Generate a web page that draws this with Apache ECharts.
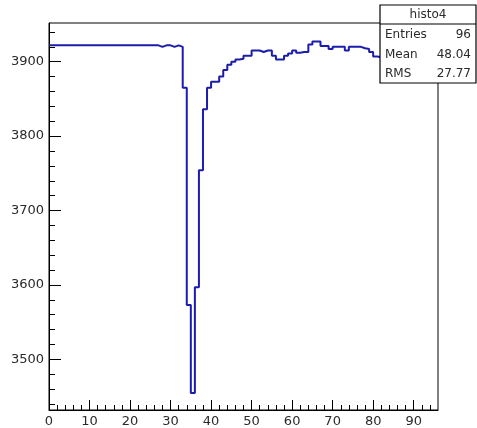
<!DOCTYPE html>
<html>
<head>
<meta charset="utf-8">
<script src="https://cdn.jsdelivr.net/npm/echarts@6/dist/echarts.min.js"></script>
<style>
  html, body { margin: 0; padding: 0; background: #fff; }
  #chart { width: 477px; height: 428px; }
</style>
</head>
<body>
<div id="chart"></div>
<script>
// histo4: one entry per unit-width bin, bins 0..95
const binContents = [
  3922, 3922, 3922, 3922, 3922, 3922, 3922, 3922, 3922, 3922,
  3922, 3922, 3922, 3922, 3922, 3922, 3922, 3922, 3922, 3922,
  3922, 3922, 3922, 3922, 3922, 3922, 3922, 3920, 3922, 3922,
  3920, 3922, 3920, 3865, 3573, 3455, 3597, 3754, 3836, 3865,
  3873, 3873, 3880, 3889, 3896, 3900, 3903, 3904, 3908, 3908,
  3915, 3915, 3913, 3915, 3915, 3908, 3903, 3903, 3908, 3911,
  3915, 3912, 3913, 3913, 3923, 3927, 3927, 3921, 3921, 3917,
  3920, 3920, 3920, 3915, 3920, 3920, 3920, 3918, 3917, 3913,
  3907, 3906, 3908, 3910, 3909, 3912, 3910, 3908, 3911, 3913,
  3910, 3909, 3912, 3910, 3908, 3910
];
const xRange = [0, 96];
const yRange = [3432, 3952];
const xMajorTicks = [0, 10, 20, 30, 40, 50, 60, 70, 80, 90];
const yMajorTicks = [3500, 3600, 3700, 3800, 3900];
const statsTitle = 'histo4';
const statsNames = ['Entries', 'Mean', 'RMS'];
const statsValues = ['96', '48.04', '27.77'];

// minor ticks: 5 divisions per major interval
const xMinorTicks = [];
for (let v = 2; v < xRange[1]; v += 2) if (v % 10 !== 0) xMinorTicks.push(v);
const yMinorTicks = [];
for (let v = 3440; v < yRange[1]; v += 20) if (v % 100 !== 0) yMinorTicks.push(v);

// outline of the histogram: each bin is a flat step from its low edge to its high edge
const outline = binContents.map((v, i) => [i, v]);
outline.push([binContents.length, binContents[binContents.length - 1]]);

const FONT = 'DejaVu Sans';
const INK = '#000';
const TEXT = '#2a2a2a';

function axisPair(dim, range, major, minor, majorLen, minorLen) {
  const base = {
    type: 'value', min: range[0], max: range[1],
    position: dim === 'x' ? 'bottom' : 'left',
    splitLine: { show: false }
  };
  return [
    Object.assign({}, base, {
      axisLine: { show: true, onZero: false, lineStyle: { color: INK, width: 1 } },
      axisTick: { show: true, inside: true, length: majorLen, customValues: major,
                  lineStyle: { color: INK, width: 1 } },
      axisLabel: { show: true, customValues: major, margin: 5,
                   formatter: (v) => String(v),
                   fontFamily: FONT, fontSize: 13, color: TEXT }
    }),
    Object.assign({}, base, {
      axisLine: { show: false, onZero: false },
      axisTick: { show: true, inside: true, length: minorLen, customValues: minor,
                  lineStyle: { color: INK, width: 1 } },
      axisLabel: { show: false }
    })
  ];
}

const boxX = 380, boxY = 5, boxW = 96, boxH = 78;
const rowY = [35, 54.5, 74];

const statsGraphic = [
  { type: 'rect', shape: { x: boxX, y: boxY, width: boxW, height: boxH },
    style: { fill: '#fff', stroke: INK, lineWidth: 1.2 }, z: 100 },
  { type: 'line', shape: { x1: boxX, y1: 24, x2: boxX + boxW, y2: 24 },
    style: { stroke: INK, lineWidth: 1.2 }, z: 101 },
  { type: 'text', x: boxX + boxW / 2, y: 15, z: 101,
    style: { text: statsTitle, align: 'center', verticalAlign: 'middle',
             font: '12px "' + FONT + '"', fill: TEXT } }
];
statsNames.forEach((name, i) => {
  statsGraphic.push({ type: 'text', x: boxX + 5, y: rowY[i], z: 101,
    style: { text: name, align: 'left', verticalAlign: 'middle',
             font: '12px "' + FONT + '"', fill: TEXT } });
  statsGraphic.push({ type: 'text', x: boxX + boxW - 5, y: rowY[i], z: 101,
    style: { text: statsValues[i], align: 'right', verticalAlign: 'middle',
             font: '12px "' + FONT + '"', fill: TEXT } });
});

const chart = echarts.init(document.getElementById('chart'), null, { renderer: 'canvas' });
chart.setOption({
  animation: false,
  backgroundColor: '#fff',
  grid: { left: 49, top: 23, right: 39, bottom: 17, show: true,
          borderColor: INK, borderWidth: 1, backgroundColor: 'transparent' },
  xAxis: axisPair('x', xRange, xMajorTicks, xMinorTicks, 10, 5),
  yAxis: axisPair('y', yRange, yMajorTicks, yMinorTicks, 12, 6),
  series: [{
    type: 'line', xAxisIndex: 0, yAxisIndex: 0,
    step: 'end', data: outline, symbol: 'none',
    lineStyle: { color: '#1c1caa', width: 2 },
    clip: true
  }],
  graphic: statsGraphic
});
</script>
</body>
</html>
